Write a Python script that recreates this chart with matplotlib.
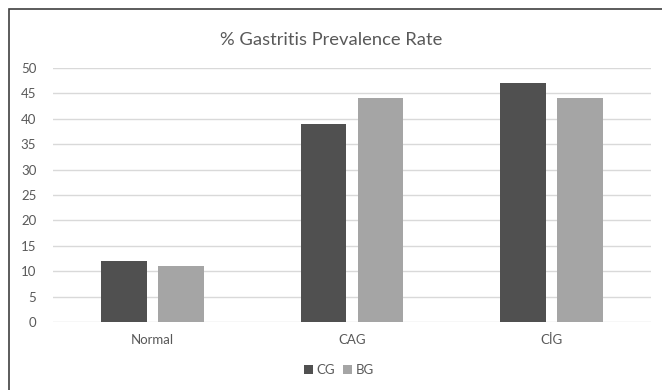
import matplotlib
matplotlib.use("Agg")
import matplotlib.pyplot as plt
import numpy as np
from matplotlib.patches import Rectangle

categories = ["Normal", "CAG", "CİG"]
series_names = ["CG", "BG"]
cg_values = [12, 39, 47]
bg_values = [11, 44, 44]
y_ticks = [0, 5, 10, 15, 20, 25, 30, 35, 40, 45, 50]

plt.rcParams["font.family"] = ["Lato", "DejaVu Sans"]
text_color = "#595959"

fig = plt.figure(figsize=(6.62, 3.90), dpi=100)
W, H = 662, 390

# outer chart frame
fig.patches.append(Rectangle((9 / W, -0.01), 1.05, 1 - 9 / H + 0.01,
                             transform=fig.transFigure, fill=False,
                             edgecolor="#404040", linewidth=1.2))

ax = fig.add_axes([53 / W, 1 - 322 / H, (651 - 53) / W, (322 - 68) / H])
x = np.arange(len(categories))
bw = 0.23
off = 0.143
ax.bar(x - off, cg_values, bw, color="#505050", label=series_names[0], zorder=3)
ax.bar(x + off, bg_values, bw, color="#a5a5a5", label=series_names[1], zorder=3)

ax.set_xlim(-0.5, 2.5)
ax.set_ylim(0, 50)
ax.set_yticks(y_ticks)
ax.grid(axis="y", color="#d9d9d9", linewidth=1, zorder=0)
for s in ax.spines.values():
    s.set_visible(False)
ax.tick_params(axis="both", length=0, colors=text_color, labelsize=9.5)
ax.tick_params(axis="y", pad=12)
ax.tick_params(axis="x", pad=9)
ax.set_xticks(x)
ax.set_xticklabels(categories)

fig.text(0.5, 1 - 40 / H, "% Gastritis Prevalence Rate", ha="center", va="center",
         fontsize=13.2, color=text_color)

fig.legend(loc="center", bbox_to_anchor=(339 / W, 1 - 370 / H), ncol=2, frameon=False,
           fontsize=9.5, handlelength=0.7, handleheight=0.7, handletextpad=0.25,
           columnspacing=0.6, labelcolor=text_color)

fig.savefig("out.png", dpi=100)
